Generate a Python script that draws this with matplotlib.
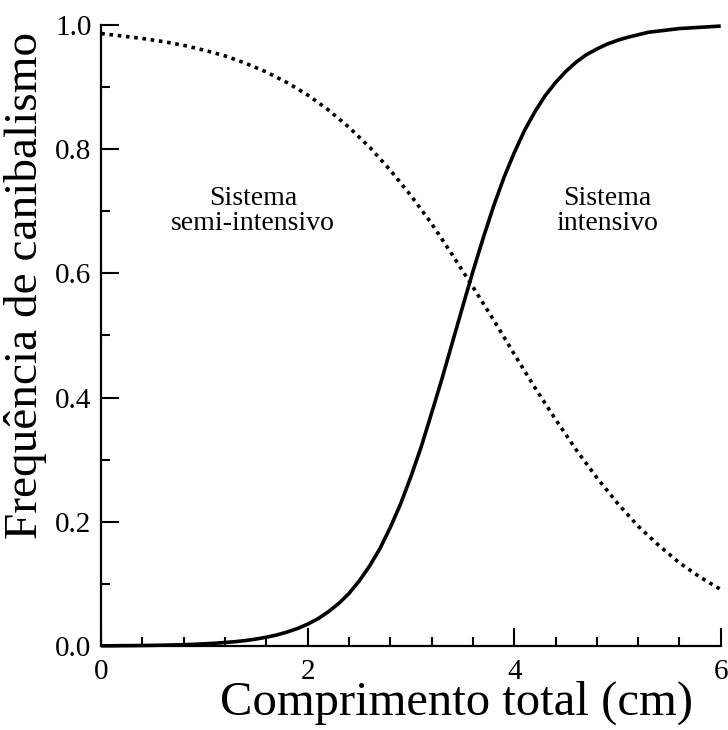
import matplotlib
matplotlib.use("Agg")
import matplotlib.pyplot as plt
from matplotlib.ticker import MultipleLocator, FormatStrFormatter

plt.rcParams["font.family"] = ["Liberation Serif", "DejaVu Serif"]

# Total length (cm) and cannibalism frequency for each rearing system
length_intensive = [round(0.1 * i, 1) for i in range(61)]
freq_intensive = [
    0.0004, 0.0004, 0.0006, 0.0007, 0.0009, 0.0011, 0.0014, 0.0018, 0.0022, 0.0028,
    0.0036, 0.0045, 0.0057, 0.0071, 0.0089, 0.0113, 0.0142, 0.0178, 0.0225, 0.0282,
    0.0353, 0.0440, 0.0552, 0.0685, 0.0847, 0.105, 0.129, 0.157, 0.191, 0.229,
    0.273, 0.321, 0.375, 0.430, 0.488, 0.546, 0.603, 0.657, 0.708, 0.754,
    0.794, 0.830, 0.860, 0.886, 0.907, 0.925, 0.940, 0.952, 0.961, 0.969,
    0.975, 0.980, 0.984, 0.988, 0.990, 0.992, 0.994, 0.995, 0.996, 0.997, 0.998,
]

length_semi = [round(0.2 * i, 1) for i in range(31)]
freq_semi = [
    0.986, 0.982, 0.978, 0.973, 0.967, 0.959, 0.950, 0.938, 0.924, 0.907,
    0.887, 0.863, 0.835, 0.803, 0.766, 0.725, 0.680, 0.630, 0.578, 0.525,
    0.470, 0.416, 0.365, 0.316, 0.271, 0.230, 0.193, 0.162, 0.134, 0.111, 0.091,
]

fig = plt.figure(figsize=(7.28, 7.30), dpi=100)
ax = fig.add_axes([0.139, 0.115, 0.851, 0.851])

ax.plot(length_intensive, freq_intensive, color="black", lw=2.6,
        solid_capstyle="butt", clip_on=False)
ax.plot(length_semi, freq_semi, color="black", lw=2.6,
        linestyle=(0, (1.0, 1.3)), dash_capstyle="butt", clip_on=False)

ax.set_xlim(0, 6)
ax.set_ylim(0, 1.0)

for side in ("top", "right"):
    ax.spines[side].set_visible(False)
for side in ("left", "bottom"):
    ax.spines[side].set_linewidth(1.6)

ax.xaxis.set_major_locator(MultipleLocator(2))
ax.xaxis.set_minor_locator(MultipleLocator(0.4))
ax.yaxis.set_major_locator(MultipleLocator(0.2))
ax.yaxis.set_minor_locator(MultipleLocator(0.1))
ax.yaxis.set_major_formatter(FormatStrFormatter("%.1f"))
ax.xaxis.set_major_formatter(FormatStrFormatter("%d"))

ax.tick_params(which="both", direction="in", width=1.5, labelsize=21,
               top=False, right=False)
ax.tick_params(which="major", length=13)
ax.tick_params(which="minor", length=6.5)
ax.tick_params(axis="x", which="both", pad=9)
ax.tick_params(axis="y", which="both", pad=7)

ax.set_xlabel("Comprimento total (cm)", fontsize=35, va="baseline")
ax.xaxis.set_label_coords(0.574, -0.110)
ax.set_ylabel("Frequência de canibalismo", fontsize=34)
ax.yaxis.set_label_coords(-0.088, 0.58)

ax.text(1.47, 0.70, "Sistema\nsemi-intensivo", fontsize=20, ha="center",
        va="center", linespacing=1.0)
ax.text(4.90, 0.70, "Sistema\nintensivo", fontsize=20, ha="center",
        va="center", linespacing=1.0)

fig.savefig("out.png", dpi=100)
